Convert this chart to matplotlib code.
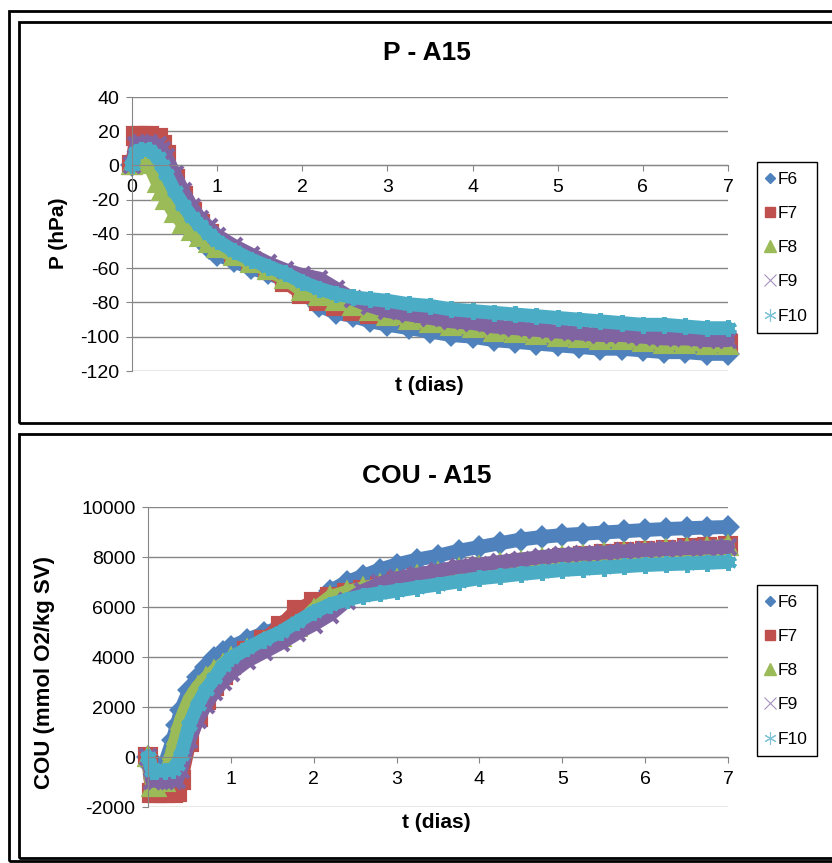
import matplotlib.pyplot as plt
from matplotlib.lines import Line2D
from matplotlib.patches import Rectangle

plt.rcParams['font.family'] = ['Liberation Sans', 'DejaVu Sans']
plt.rcParams['axes.unicode_minus'] = False

# time (days)
t_days = [0, 0.05, 0.1, 0.2, 0.3, 0.35, 0.4, 0.5, 0.6, 0.7, 0.8, 0.9, 1.0, 1.2, 1.4, 1.6, 1.8, 2.0,
          2.2, 2.4, 2.6, 2.8, 3.0, 3.25, 3.5, 3.75, 4.0, 4.25, 4.5, 4.75, 5.0, 5.25, 5.5, 5.75,
          6.0, 6.25, 6.5, 6.75, 7.0]

# P (hPa)
p_f6 = [0, 4, 5, 4, -3, -8, -14, -24, -32, -38, -43, -48, -52, -56, -60, -63, -67, -74,
        -82, -86, -88, -91, -93, -95, -97, -99, -100, -102, -103, -104, -105, -106, -107, -107,
        -108, -109, -109, -110, -110]
p_f7 = [0, 17, 17, 17, 16, 12, 6, -8, -18, -27, -34, -40, -45, -51, -56, -61, -68, -75,
        -79, -82, -85, -87, -88, -90, -92, -93, -95, -96, -97, -98, -99, -100, -101, -101,
        -102, -102, -103, -103, -104]
p_f8 = [0, 4, 5, 1, -10, -15, -20, -28, -34, -38, -42, -45, -48, -53, -57, -61, -66, -73,
        -76, -79, -82, -85, -88, -90, -92, -94, -95, -97, -98, -99, -100, -101, -102, -102,
        -103, -104, -104, -105, -105]
p_f9 = [0, 12, 13, 13, 12, 9, 5, -5, -15, -24, -31, -36, -41, -47, -52, -57, -61, -64,
        -66, -72, -78, -82, -85, -87, -89, -91, -92, -94, -95, -96, -97, -98, -99, -99,
        -100, -101, -101, -102, -102]
p_f10 = [0, 8, 9, 9, 5, 0, -5, -15, -23, -30, -35, -40, -44, -50, -55, -59, -63, -68,
         -72, -75, -77, -78, -79, -81, -82, -84, -85, -86, -87, -88, -89, -90, -91, -92,
         -93, -93, -94, -95, -95]

# COU (mmol O2/kg SV)
cou_f6 = [0, -400, -400, -300, 700, 1300, 1900, 2700, 3200, 3600, 3950, 4200, 4400, 4700, 4950,
          5200, 5500, 5900, 6650, 7000, 7250, 7500, 7700, 7900, 8050, 8250, 8400, 8550, 8700,
          8800, 8880, 8930, 8980, 9030, 9080, 9120, 9150, 9180, 9200]
cou_f7 = [0, -1450, -1450, -1450, -1450, -1400, -900, 600, 1600, 2300, 2850, 3300, 3700, 4250,
          4700, 5250, 5900, 6200, 6400, 6550, 6700, 6850, 7000, 7150, 7300, 7430, 7550, 7650,
          7750, 7850, 7950, 8050, 8120, 8200, 8250, 8300, 8350, 8400, 8450]
cou_f8 = [0, -1200, -1200, -1000, 300, 900, 1500, 2300, 2800, 3150, 3450, 3700, 3950, 4300,
          4550, 4800, 5200, 5900, 6400, 6600, 6750, 6900, 7080, 7230, 7380, 7520, 7620, 7720,
          7820, 7920, 8000, 8060, 8110, 8160, 8220, 8270, 8320, 8380, 8450]
cou_f9 = [0, -950, -950, -950, -950, -900, -500, 700, 1500, 2100, 2600, 3000, 3350, 3850,
          4200, 4550, 4950, 5300, 5700, 6250, 6650, 6950, 7150, 7300, 7450, 7600, 7700, 7800,
          7900, 8000, 8080, 8130, 8180, 8230, 8280, 8320, 8350, 8380, 8400]
cou_f10 = [0, -550, -550, -550, -500, -300, 100, 1300, 2100, 2700, 3150, 3650, 3950, 4350,
           4700, 5000, 5400, 5800, 6100, 6300, 6450, 6550, 6650, 6780, 6900, 7020, 7150, 7230,
           7320, 7400, 7480, 7530, 7580, 7630, 7680, 7710, 7740, 7770, 7800]

names = ['F6', 'F7', 'F8', 'F9', 'F10']
colors = ['#4F81BD', '#C0504D', '#9BBB59', '#8064A2', '#4BACC6']
markers = ['D', 's', '^', 'x', (6, 2, 0)]
body_ms = [9, 11, 12, 11, 12]
leg_ms = [5, 7, 8, 8, 9]

W, H = 832, 863
fig = plt.figure(figsize=(W / 100, H / 100), dpi=100)


def fx(x):
    return x / W


def fy(y):
    return 1 - y / H


def box(x0, y0, x1, y1, lw=2):
    fig.patches.append(Rectangle((fx(x0), fy(y1)), fx(x1 - x0), (y1 - y0) / H,
                                 transform=fig.transFigure, fill=False, lw=lw, ec='black'))


box(9, 11, 845, 861)
box(19, 22, 845, 423)
box(19, 434, 845, 858)


def chart(px, series, ylim, ystep, title, ylabel, ylabel_fs, title_y, xlabel_x, xlabel_y,
          ylabel_x, ylabel_y, leg_y):
    x0, y0, x1, y1 = px
    ax = fig.add_axes([fx(x0), fy(y1), fx(x1 - x0), (y1 - y0) / H])
    for vals, c, m, ms in zip(series, colors, markers, body_ms):
        ax.plot(t_days, vals, color=c, lw=10, solid_joinstyle='round', solid_capstyle='round',
                clip_on=False)
        ax.plot(t_days, vals, ls='none', marker=m, ms=ms, color=c, mec=c, mew=3, clip_on=False)
    ax.set_xlim(0, 7)
    ax.set_ylim(*ylim)
    ax.set_xticks(range(8))
    ax.set_yticks(range(ylim[0], ylim[1] + 1, ystep))
    for s in ['top', 'right']:
        ax.spines[s].set_visible(False)
    ax.spines['left'].set_color('#868686')
    ax.spines['bottom'].set_color('#868686')
    ax.spines['bottom'].set_position(('data', 0))
    ax.yaxis.grid(True, color='#868686', lw=1)
    ax.set_axisbelow(True)
    ax.tick_params(axis='y', direction='out', length=4, color='#868686', labelsize=14, pad=5)
    ax.tick_params(axis='x', direction='out', length=4, color='#868686', labelsize=14, pad=6)

    fig.text(fx(427), fy(title_y), title, ha='center', va='center', fontsize=19, fontweight='bold')
    fig.text(fx(xlabel_x), fy(xlabel_y), 't (dias)', ha='center', va='center', fontsize=15,
             fontweight='bold')
    fig.text(fx(ylabel_x), fy(ylabel_y), ylabel, ha='center', va='center', rotation=90,
             fontsize=ylabel_fs, fontweight='bold')

    handles = []
    for c, m, ms in zip(colors, markers, leg_ms):
        if m in ['D', 's', '^']:
            handles.append(Line2D([], [], ls='none', marker=m, ms=ms, color=c))
        else:
            handles.append(Line2D([], [], ls='none', marker=m, ms=ms, color=c, mew=0.8, alpha=0.7))
    leg = ax.legend(handles, names, loc='upper left', bbox_to_anchor=(fx(757), fy(leg_y)),
                    bbox_transform=fig.transFigure, fancybox=False, edgecolor='black',
                    fontsize=12.5, handlelength=0.45, handletextpad=0.2, labelspacing=1.1,
                    borderpad=0.55, borderaxespad=0, framealpha=1)
    leg.get_frame().set_linewidth(1)
    return ax


chart((132, 97, 728, 371), [p_f6, p_f7, p_f8, p_f9, p_f10], (-120, 40), 20,
      'P - A15', 'P (hPa)', 15, 53, 429, 385, 58, 233, 162)
chart((148, 507, 728, 807), [cou_f6, cou_f7, cou_f8, cou_f9, cou_f10], (-2000, 10000), 2000,
      'COU - A15', 'COU (mmol O2/kg SV)', 16, 476, 436, 822, 45, 672, 585)

plt.savefig('out.png', dpi=100)
